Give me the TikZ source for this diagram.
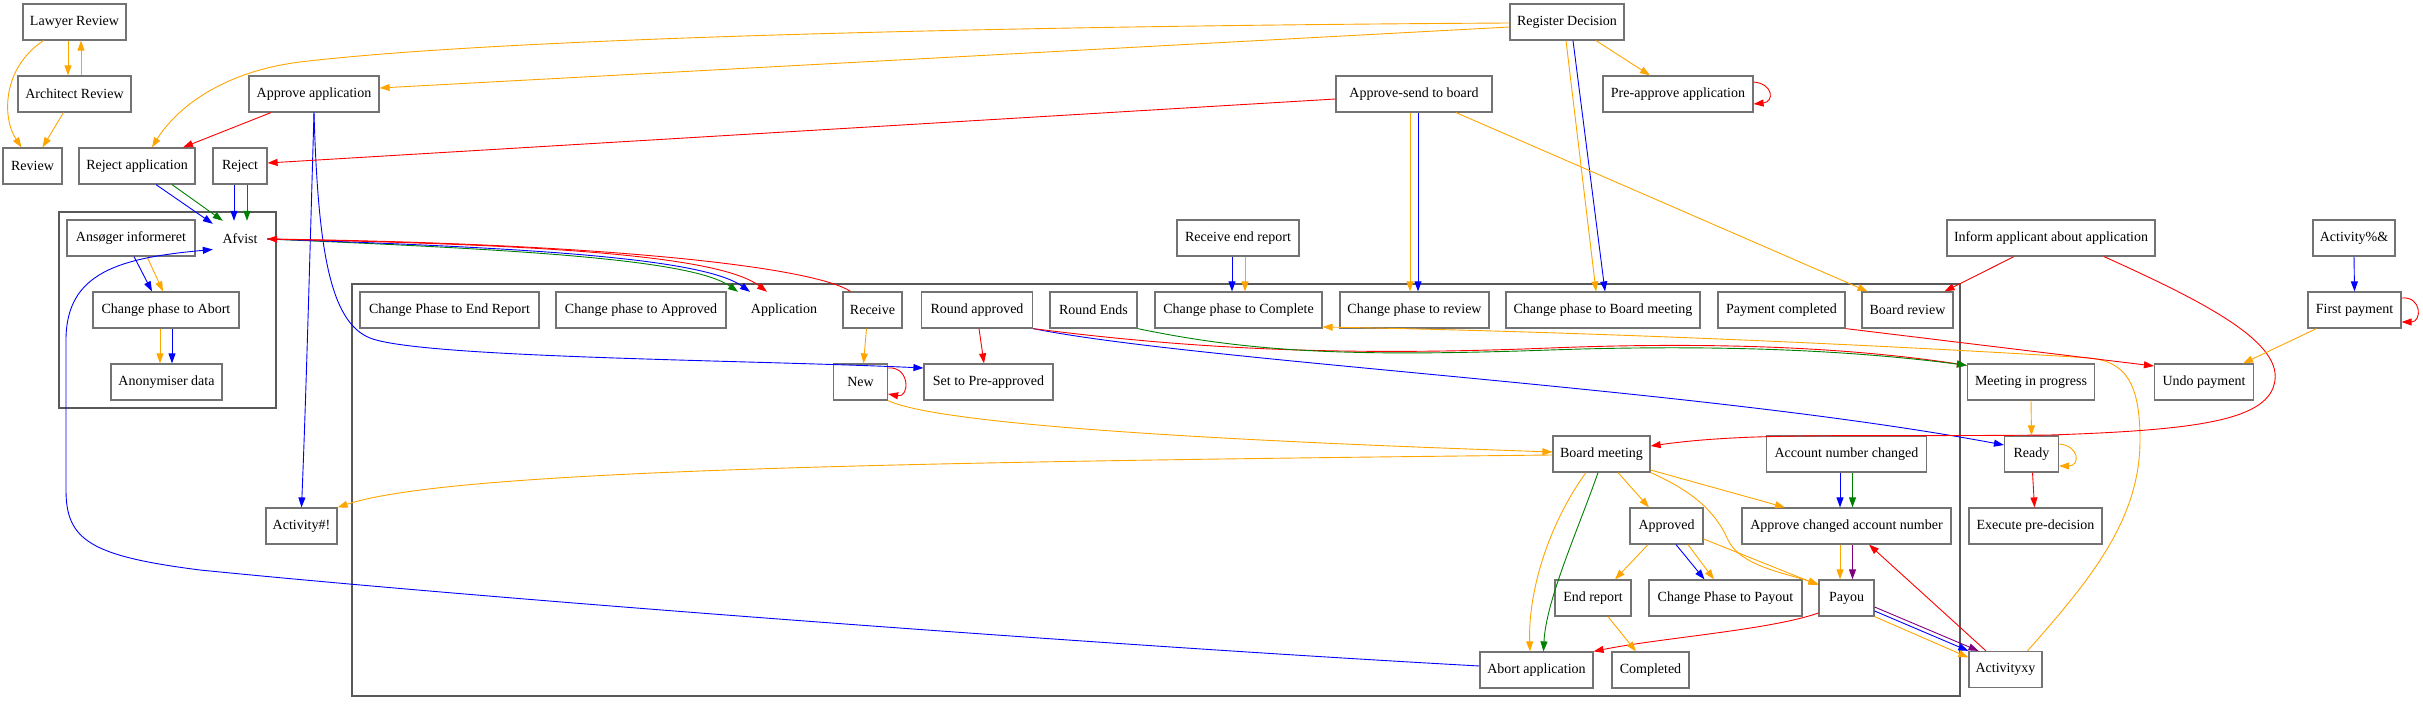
\documentclass[tikz,border=0pt]{standalone}
\usepackage{fontspec}
\setmainfont{Liberation Serif}
\usetikzlibrary{arrows.meta}
\definecolor{gvorange}{HTML}{FFA500}
\definecolor{gvred}{HTML}{FF0000}
\definecolor{gvblue}{HTML}{0000FF}
\definecolor{gvgreen}{HTML}{008000}
\definecolor{gvpurple}{HTML}{800080}
\begin{document}
\begin{tikzpicture}[x=1pt, y=-1pt,
	activity/.style={draw=black!55, line width=1.2pt, minimum height=36, inner xsep=2pt, font=\fontsize{14}{17}\selectfont},
	plainlbl/.style={minimum width=54, minimum height=36, inner xsep=2pt, font=\fontsize{14}{17}\selectfont},
	flow/.style={-{Triangle[length=10pt,width=7pt]}, line width=0.9pt},
	cluster/.style={draw=black!65, line width=1.2pt}]
	\useasboundingbox (0,0) rectangle (2423,708);

	\draw[cluster] (59,212) rectangle (276,408);
	\draw[cluster] (352,284) rectangle (1960,696);

	\node[activity, minimum width=103] (lawyer) at (74.5,22) {Lawyer Review};
	\node[activity, minimum width=113] (architect) at (74.5,94) {Architect Review};
	\node[activity, minimum width=59] (review) at (32.5,166) {Review};
	\node[activity, minimum width=116] (rejectapp) at (137,166) {Reject application};
	\node[activity, minimum width=54] (reject) at (240,166) {Reject};
	\node[activity, minimum width=130] (approveapp) at (314,94) {Approve application};
	\node[plainlbl] (afvist) at (240,239) {Afvist};
	\node[activity, minimum width=128] (ansoger) at (131,238) {Ansøger informeret};
	\node[activity, minimum width=146] (abortphase) at (166,310) {Change phase to Abort};
	\node[activity, minimum width=111] (anonym) at (166.5,382) {Anonymiser data};
	\node[activity, minimum width=71] (activityex) at (301.5,526) {Activity\#!};

	\node[activity, minimum width=114] (regdec) at (1567,22) {Register Decision};
	\node[activity, minimum width=150] (preapprove) at (1678,94) {Pre-approve application};
	\node[activity, minimum width=156] (sendboard) at (1414,94) {Approve-send to board};
	\node[activity, minimum width=122] (recendrep) at (1238,238) {Receive end report};
	\node[activity, minimum width=208] (inform) at (2051,238) {Inform applicant about application};
	\node[activity, minimum width=82] (activitypct) at (2354,238) {Activity\%\&};
	\node[activity, minimum width=93] (firstpay) at (2354.5,310) {First payment};
	\node[activity, minimum width=99] (undopay) at (2204,382) {Undo payment};

	\node[activity, minimum width=179] (endphase) at (449.5,310) {Change Phase to End Report};
	\node[activity, minimum width=170] (approvedphase) at (641,310) {Change phase to Approved};
	\node[plainlbl] (application) at (784,310) {Application};
	\node[activity, minimum width=59] (receive) at (872.5,310) {Receive};
	\node[activity, minimum width=111] (roundapp) at (977,310) {Round approved};
	\node[activity, minimum width=87] (roundends) at (1093.5,310) {Round Ends};
	\node[activity, minimum width=167] (completephase) at (1238.5,310) {Change phase to Complete};
	\node[activity, minimum width=149] (reviewphase) at (1414.5,310) {Change phase to review};
	\node[activity, minimum width=194] (boardphase) at (1603,310) {Change phase to Board meeting};
	\node[activity, minimum width=127] (paycomp) at (1781.5,310) {Payment completed};
	\node[activity, minimum width=91] (boardreview) at (1907.5,310) {Board review};
	\node[activity, minimum width=54] (new) at (860.5,382) {New};
	\node[activity, minimum width=129] (setpre) at (988.5,382) {Set to Pre-approved};
	\node[activity, minimum width=97] (boardmeet) at (1601.5,454) {Board meeting};
	\node[activity, minimum width=160] (acctchanged) at (1846.5,454) {Account number changed};
	\node[activity, minimum width=73] (approved) at (1666.5,526) {Approved};
	\node[activity, minimum width=209] (approvechg) at (1846.5,526) {Approve changed account number};
	\node[activity, minimum width=76] (endreport) at (1593,598) {End report};
	\node[activity, minimum width=153] (payoutphase) at (1725.5,598) {Change Phase to Payout};
	\node[activity, minimum width=55] (payou) at (1846.5,598) {Payou};
	\node[activity, minimum width=113] (abortapp) at (1536.5,670) {Abort application};
	\node[activity, minimum width=77] (completed) at (1650.5,670) {Completed};

	\node[activity, minimum width=127] (meeting) at (2031,382) {Meeting in progress};
	\node[activity, minimum width=54] (ready) at (2031.5,454) {Ready};
	\node[activity, minimum width=133] (execpre) at (2035.5,526) {Execute pre-decision};
	\node[activity, minimum width=73] (activityxy) at (2005.5,669.5) {Activityxy};

	\draw[flow,gvorange] ([xshift=-6.5]lawyer.south) -- ([xshift=-6.5]architect.north);
	\draw[flow,gvorange] ([xshift=6.5]architect.north) -- ([xshift=6.5]lawyer.south);
	\draw[flow,gvorange] ([xshift=-31]lawyer.south) .. controls (2,68) and (2,118) .. ([xshift=-11]review.north);
	\draw[flow,gvorange] ([xshift=-11]architect.south) -- ([xshift=10]review.north);

	\draw[flow,gvorange] ([yshift=-1]regdec.west) .. controls (1000,26) and (500,38) .. (300,62) .. controls (220,72) and (175,110) .. ([xshift=15]rejectapp.north);
	\draw[flow,gvorange] ([yshift=-5]regdec.west) -- ([yshift=6]approveapp.east);
	\draw[flow,gvorange] ([xshift=29]regdec.south) -- ([xshift=-28]preapprove.north);
	\draw[flow,gvorange] ([xshift=-1]regdec.south) -- ([xshift=-7]boardphase.north);
	\draw[flow,gvblue] ([xshift=6]regdec.south) -- ([xshift=2]boardphase.north);
	\draw[flow,gvred] ([yshift=12]preapprove.east) .. controls (1774,84) and (1774,102) .. ([yshift=-10]preapprove.east);

	\draw[flow,gvred] ([xshift=-43]approveapp.south) -- ([xshift=46]rejectapp.north);
	\draw[flow,gvblue] (approveapp.south) .. controls (310,250) and (306,400) .. (activityex.north);
	\draw[flow,gvblue] (approveapp.south) .. controls (318,250) and (330,322) .. (370,338) .. controls (420,358) and (750,360) .. ([yshift=14]setpre.west);

	\draw[flow,gvred] ([yshift=-5]sendboard.west) -- ([yshift=3]reject.east);
	\draw[flow,gvorange] ([xshift=-4]sendboard.south) -- ([xshift=-4.5]reviewphase.north);
	\draw[flow,gvblue] ([xshift=4]sendboard.south) -- ([xshift=3.5]reviewphase.north);
	\draw[flow,gvorange] ([xshift=42]sendboard.south) -- ([xshift=-40]boardreview.north);

	\draw[flow,gvblue] ([xshift=19]rejectapp.south) -- ([yshift=-3]afvist.north west);
	\draw[flow,gvgreen] ([xshift=35]rejectapp.south) -- ([xshift=10]afvist.north west);
	\draw[flow,gvblue] ([xshift=-6]reject.south) -- ([xshift=-6]afvist.north);
	\draw[flow,gvgreen] ([xshift=7]reject.south) -- ([xshift=7]afvist.north);

	\draw[flow,gvgreen] (afvist.east) .. controls (500,249) and (690,258) .. ([xshift=-46]application.north);
	\draw[flow,gvblue] (afvist.east) .. controls (500,247) and (700,256) .. ([xshift=-34]application.north);
	\draw[flow,gvred] (afvist.east) .. controls (500,244) and (715,252) .. ([xshift=-17]application.north);
	\draw[flow,gvred] ([xshift=-22]receive.north) .. controls (815,268) and (620,244) .. (afvist.east);

	\draw[flow,gvblue] ([xshift=3]ansoger.south) -- ([xshift=-14]abortphase.north);
	\draw[flow,gvorange] ([xshift=16]ansoger.south) -- ([xshift=-3]abortphase.north);
	\draw[flow,gvorange] ([xshift=-6]abortphase.south) -- ([xshift=-6.5]anonym.north);
	\draw[flow,gvblue] ([xshift=6]abortphase.south) -- ([xshift=5.5]anonym.north);
	\draw[flow,gvblue] ([yshift=4]abortapp.west) .. controls (1100,645) and (500,600) .. (200,570) .. controls (90,556) and (66,540) .. (66,490) -- (66,340) .. controls (66,272) and (120,258) .. (afvist.201);

	\draw[flow,gvorange] ([xshift=-6]receive.south) -- ([xshift=3]new.north);
	\draw[flow,gvred] ([yshift=14]new.east) .. controls (910,366) and (910,398) .. ([yshift=-12]new.east);
	\draw[flow,gvorange] (new.south east) .. controls (950,430) and (1350,445) .. ([yshift=2]boardmeet.west);
	\draw[flow,gvorange] ([yshift=-1]boardmeet.west) .. controls (900,462) and (450,470) .. (activityex.north east);

	\draw[flow,gvred] ([xshift=2]roundapp.south) -- ([xshift=-4.5]setpre.north);
	\draw[flow,gvblue] (roundapp.south east) .. controls (1200,362) and (1700,388) .. ([yshift=9]ready.west);
	\draw[flow,gvred] (roundapp.south east) .. controls (1200,350) and (1350,356) .. (1550,348) .. controls (1750,340) and (1880,352) .. ([yshift=-2]meeting.north west);
	\draw[flow,gvgreen] (roundends.south east) .. controls (1250,352) and (1350,357) .. (1550,350) .. controls (1750,343) and (1880,354) .. ([yshift=-2]meeting.north west);

	\draw[flow,gvblue] ([xshift=-6]recendrep.south) -- ([xshift=-6.5]completephase.north);
	\draw[flow,gvorange] ([xshift=7]recendrep.south) -- ([xshift=6.5]completephase.north);
	\draw[flow,gvorange] ([xshift=22]activityxy.north) .. controls (2090,580) and (2140,520) .. (2140,440) .. controls (2140,382) and (2125,362) .. (2090,358) .. controls (1900,346) and (1600,332) .. ([yshift=-17]completephase.east);

	\draw[flow,gvred] (paycomp.south east) -- ([yshift=16]undopay.west);
	\draw[flow,gvred] ([xshift=-37]inform.south) -- ([xshift=37]boardreview.north);
	\draw[flow,gvred] ([xshift=53]inform.south) .. controls (2200,300) and (2280,340) .. (2275,380) .. controls (2270,420) and (2200,430) .. (2050,435) .. controls (1850,437) and (1750,432) .. ([yshift=8]boardmeet.east);
	\draw[flow,gvblue] (activitypct.south) -- (firstpay.north);
	\draw[flow,gvred] ([yshift=12]firstpay.east) .. controls (2422,296) and (2422,322) .. ([yshift=-12]firstpay.east);
	\draw[flow,gvorange] ([xshift=-38]firstpay.south) -- ([xshift=39]undopay.north);
	\draw[flow,gvorange] (meeting.south) -- (ready.north);
	\draw[flow,gvorange] ([yshift=10]ready.east) .. controls (2080,446) and (2080,466) .. ([yshift=-12]ready.east);
	\draw[flow,gvred] ([xshift=1]ready.south) -- ([xshift=-1]execpre.north);

	\draw[flow,gvorange] ([xshift=-15.5]boardmeet.south) .. controls (1548,525) and (1528,592) .. ([xshift=-6.5]abortapp.north);
	\draw[flow,gvgreen] ([xshift=-3.5]boardmeet.south) .. controls (1578,530) and (1546,600) .. ([xshift=7]abortapp.north);
	\draw[flow,gvorange] ([xshift=16.5]boardmeet.south) -- ([xshift=-17.5]approved.north);
	\draw[flow,gvorange] ([yshift=-16]boardmeet.east) -- ([xshift=-61.5]approvechg.north);
	\draw[flow,gvorange] (boardmeet.south east) .. controls (1690,490) and (1715,510) .. (1728,540) .. controls (1740,565) and (1780,572) .. ([yshift=14]payou.west);
	\draw[flow,gvorange] ([yshift=-13]approved.east) -- ([yshift=13]payou.west);
	\draw[flow,gvorange] ([xshift=-18.5]approved.south) -- ([xshift=22]endreport.north);
	\draw[flow,gvblue] ([xshift=9.5]approved.south) -- ([xshift=-21]payoutphase.north);
	\draw[flow,gvorange] ([xshift=21.5]approved.south) -- ([xshift=-11.5]payoutphase.north);
	\draw[flow,gvblue] ([xshift=-6.5]acctchanged.south) -- ([xshift=-6.5]approvechg.north);
	\draw[flow,gvgreen] ([xshift=6]acctchanged.south) -- ([xshift=6]approvechg.north);
	\draw[flow,gvorange] ([xshift=-6.5]approvechg.south) -- ([xshift=-6.5]payou.north);
	\draw[flow,gvpurple] ([xshift=6]approvechg.south) -- ([xshift=6]payou.north);
	\draw[flow,gvred] ([xshift=-19.5]activityxy.north) -- ([xshift=22.5]approvechg.south);
	\draw[flow,gvpurple] ([yshift=-9]payou.east) -- ([xshift=-27]activityxy.north);
	\draw[flow,gvblue] ([yshift=-13]payou.east) -- (activityxy.north west);
	\draw[flow,gvorange] (payou.south east) -- ([yshift=12]activityxy.west);
	\draw[flow,gvred] ([yshift=-15]payou.west) .. controls (1770,630) and (1660,638) .. (abortapp.north east);
	\draw[flow,gvorange] ([xshift=15]endreport.south) -- ([xshift=-14.5]completed.north);
\end{tikzpicture}
\end{document}
